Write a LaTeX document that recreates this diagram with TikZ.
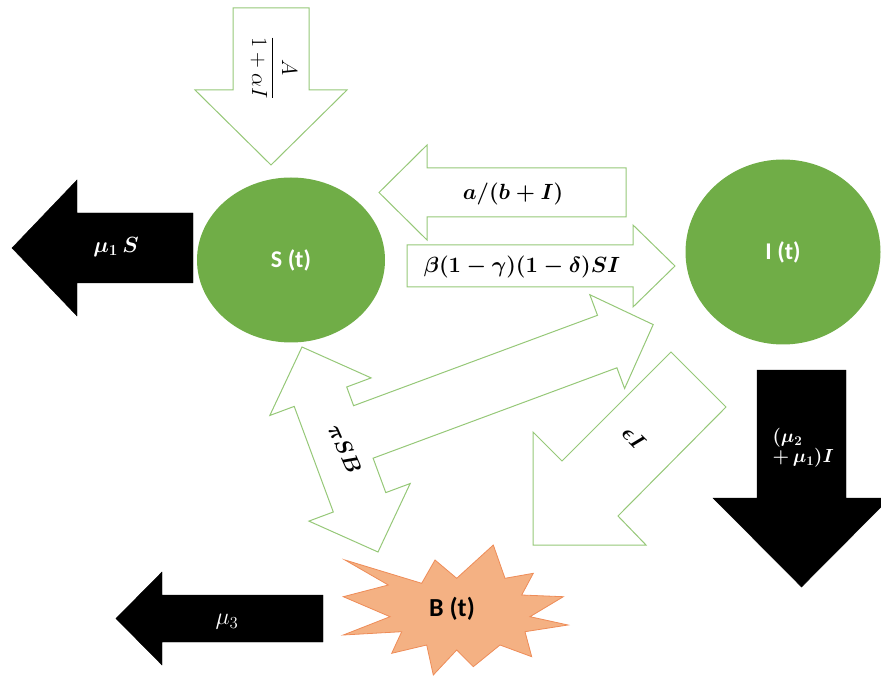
\RequirePackage{fix-cm}
\documentclass[tikz,border=0pt]{standalone}
\usepackage{amsmath}
\usepackage{amssymb}
\usepackage{fontspec}
\usepackage{tikz}
\usepackage{xcolor}
\usetikzlibrary{shapes.geometric}
\newfontfamily\calibri{Carlito}
\definecolor{compgreen}{RGB}{112,173,71}
\definecolor{flowgreen}{RGB}{150,200,120}
\definecolor{starfill}{RGB}{244,177,131}
\definecolor{starline}{RGB}{238,140,88}

\begin{document}
\begin{tikzpicture}[x=1pt, y=-1pt,
  flow/.style={draw=flowgreen, fill=white, line width=1pt},
  sink/.style={fill=black},
  comp/.style={ellipse, fill=compgreen, text=white, inner sep=0pt,
    font=\calibri\bfseries\fontsize{24}{28}\selectfont},
  rate/.style={font=\fontsize{22}{26}\selectfont},
  sinkrate/.style={text=white, font=\fontsize{24}{26}\selectfont}]
\useasboundingbox (0,0) rectangle (881,676);

% compartments
\node[comp, minimum width=188, minimum height=165] (S) at (291,260) {S (t)};
\node[comp, minimum width=195, minimum height=185] (I) at (783,252) {I (t)};
\draw[fill=starfill, draw=starline, line width=0.8pt] (345,560) -- (421.7,583.3) -- (435,560) -- (456.7,578.3)
  -- (493.3,545) -- (505,578.3) -- (533.3,573.3) -- (521.7,595) -- (563.3,596.7) -- (530,616.7)
  -- (568,625) -- (525,631.7) -- (531.7,656.7) -- (500,645) -- (473.3,666.7) -- (456.7,650)
  -- (433.3,675) -- (426.7,645) -- (391.7,653.3) -- (401.7,631.7) -- (343.3,635) -- (390,616.7)
  -- (343.3,596.7) -- (388.3,585) -- cycle;
\node[font=\calibri\bfseries\fontsize{26}{30}\selectfont] (B) at (452,609) {B (t)};

% recruitment
\draw[flow] (233,8) -- (309,8) -- (309,90) -- (347,90) -- (271,165) -- (195,90) -- (233,90) -- cycle;
\node[rate, rotate=-90] (recr) at (274,68) {$\displaystyle\frac{A}{1+\alpha I}$};

% S <-> I
\draw[flow] (626,168) -- (427,168) -- (427,145) -- (379,192.5) -- (427,240) -- (427,217) -- (626,217) -- cycle;
\node[rate] (treat) at (513,194) {$\boldsymbol{a/(b+I)}$};
\draw[flow] (407,245) -- (633,245) -- (633,225) -- (675,266) -- (633,307) -- (633,287) -- (407,287) -- cycle;
\node[rate] (infect) at (522,267) {$\boldsymbol{\beta(1-\gamma)(1-\delta)SI}$};

% I -> B
\draw[flow] (671,352) -- (726,407) -- (618,516) -- (646,545) -- (533,545) -- (533,432) -- (562,461) -- cycle;
\node[rate, rotate=-45] (shed) at (634,438) {$\boldsymbol{\epsilon I}$};

% B <-> S, I
\draw[flow] (302,347) -- (371.1,377.9) -- (346.7,387.0) -- (353.6,405.7) -- (597.5,315.3) -- (589.8,294.7)
  -- (653.2,324.6) -- (624.6,388.5) -- (616.9,367.8) -- (373.1,458.2) -- (385.8,492.6) -- (410.2,483.5)
  -- (378.0,552.0) -- (308.9,521.1) -- (333.3,512.0) -- (294.2,406.4) -- (269.8,415.5) -- cycle;
\node[rate, rotate=-66] (contact) at (345,449) {$\boldsymbol{\pi SB}$};

% deaths
\draw[sink] (193,213) -- (77,213) -- (77,180) -- (12,248) -- (77,316) -- (77,283) -- (193,283) -- cycle;
\node[rate, text=white] (deathS) at (116,247) {$\boldsymbol{\mu_1\,S}$};
\draw[sink] (757,370) -- (846,370) -- (846,498) -- (890,498) -- (801.5,587) -- (713,498) -- (757,498) -- cycle;
\node[sinkrate, anchor=west, align=left, font=\fontsize{19}{20}\selectfont] (deathI) at (769,448) {$\boldsymbol{(\mu_2}$\\$\boldsymbol{+\,\mu_1)I}$};
\draw[sink] (323,595) -- (162,595) -- (162,572) -- (116,618.5) -- (162,665) -- (162,642) -- (323,642) -- cycle;
\node[sinkrate] (deathB) at (227,622) {$\mu_3$};
\end{tikzpicture}
\end{document}
